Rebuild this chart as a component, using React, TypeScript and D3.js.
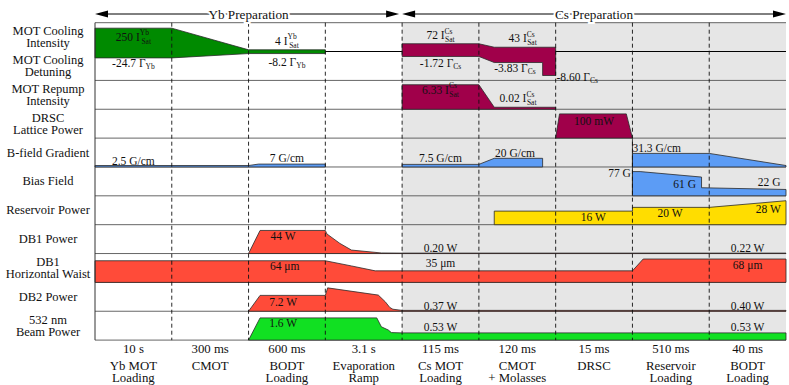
import React from 'react';
import * as d3 from 'd3';

const W = 789, H = 385;

// sequence steps (one column each)
const durations = ['10 s', '300 ms', '600 ms', '3.1 s', '115 ms', '120 ms', '15 ms', '510 ms', '40 ms'];
const phases = [['Yb MOT', 'Loading'], ['CMOT'], ['BODT', 'Loading'], ['Evaporation', 'Ramp'], ['Cs MOT', 'Loading'], ['CMOT', '+ Molasses'], ['DRSC'], ['Reservoir', 'Loading'], ['BODT', 'Loading']];

// channel names, one per row
const rowNames = [
  ['MOT Cooling', 'Intensity'],
  ['MOT Cooling', 'Detuning'],
  ['MOT Repump', 'Intensity'],
  ['DRSC', 'Lattice Power'],
  ['B-field Gradient'],
  ['Bias Field'],
  ['Reservoir Power'],
  ['DB1 Power'],
  ['DB1', 'Horizontal Waist'],
  ['DB2 Power'],
  ['532 nm', 'Beam Power'],
];

// waveforms: [time (steps), level (fraction of row height above baseline)]
const coolingYb = [[0, 0.81], [1, 0.81], [2, 0.06], [3, 0.06], [3, -0.07], [2, -0.07], [1, -0.22], [0, -0.22]];
const coolingCs = [[4, 0.27], [5, 0.27], [5.2, 0.15], [6, 0.15], [6, -0.83], [5.83, -0.83], [5.83, -0.38], [5.2, -0.38], [5, -0.17], [4, -0.17]];
const repumpCs = [[4, 0], [4, 0.85], [5, 0.85], [5.2, 0.07], [6, 0.07], [6, 0]];
const drscPower = [[6, 0], [6.05, 0.84], [6.92, 0.84], [7, 0]];
const gradYb = [[0, 0], [0, 0.05], [2, 0.05], [2.13, 0.1], [3, 0.1], [3, 0]];
const gradCs = [[4, 0], [4, 0.09], [5, 0.09], [5.2, 0.3], [5.83, 0.3], [5.83, 0]];
const gradRes = [[7, 0], [7, 0.47], [8, 0.47], [9, 0.05], [9, 0]];
const biasField = [[7, 0], [7, 0.84], [7.1, 0.84], [7.9, 0.65], [7.9, 0.28], [9, 0.22], [9, 0]];
const reservoir = [[5.2, 0], [5.2, 0.47], [7, 0.47], [7, 0.6], [8, 0.6], [9, 0.83], [9, 0]];
const db1Power = [[2, 0], [2.15, 0.8], [3, 0.8], [3.02, 0.68], [3.19, 0.35], [3.34, 0.12], [3.73, 0.02], [4, 0.015], [9, 0.015], [9, 0]];
const db1Waist = [[0, 0], [0, 0.75], [3, 0.75], [3.34, 0.57], [3.65, 0.4], [7, 0.4], [7.14, 0.81], [9, 0.81], [9, 0]];
const db2Power = [[2, 0], [2.15, 0.55], [3, 0.55], [3.03, 0.81], [3.69, 0.56], [3.78, 0.33], [3.84, 0.13], [3.88, 0.07], [4, 0.03], [9, 0.03], [9, 0]];
const greenPower = [[2, 0], [2.15, 0.77], [3.67, 0.77], [3.73, 0.46], [3.82, 0.35], [3.86, 0.26], [4, 0.25], [9, 0.25], [9, 0]];

// trace table: points, baseline row boundary, colour
const traces = [
  { pts: coolingYb, base: 1, fill: '#008a00' },
  { pts: coolingCs, base: 1, fill: '#a0004a' },
  { pts: repumpCs, base: 3, fill: '#a0004a' },
  { pts: drscPower, base: 4, fill: '#a0004a' },
  { pts: gradYb, base: 5, fill: '#5c9cf5' },
  { pts: gradCs, base: 5, fill: '#5c9cf5' },
  { pts: gradRes, base: 5, fill: '#5c9cf5' },
  { pts: biasField, base: 6, fill: '#5c9cf5' },
  { pts: reservoir, base: 7, fill: '#ffdd00' },
  { pts: db1Power, base: 8, fill: '#ff4b39' },
  { pts: db1Waist, base: 9, fill: '#ff4b39' },
  { pts: db2Power, base: 10, fill: '#ff4b39' },
  { pts: greenPower, base: 11, fill: '#11e022' },
];

// value annotations: text, time, row position
const notes = [
  { txt: '250 I', sup: 'Yb', sub: 'Sat', t: 0.5, r: 0.49 },
  { txt: '-24.7 Γ', sub: 'Yb', t: 0.5, r: 1.41 },
  { txt: '4 I', sup: 'Yb', sub: 'Sat', t: 2.5, r: 0.63 },
  { txt: '-8.2 Γ', sub: 'Yb', t: 2.5, r: 1.35 },
  { txt: '72 I', sup: 'Cs', sub: 'Sat', t: 4.5, r: 0.43 },
  { txt: '43 I', sup: 'Cs', sub: 'Sat', t: 5.57, r: 0.54 },
  { txt: '-1.72 Γ', sub: 'Cs', t: 4.5, r: 1.39 },
  { txt: '-3.83 Γ', sub: 'Cs', t: 5.47, r: 1.58 },
  { txt: '-8.60 Γ', sub: 'Cs', t: 6.01, r: 1.87, anchor: 'start' },
  { txt: '6.33 I', sup: 'Cs', sub: 'Sat', t: 4.5, r: 2.33 },
  { txt: '0.02 I', sup: 'Cs', sub: 'Sat', t: 5.51, r: 2.62 },
  { txt: '100 mW', t: 6.5, r: 3.4 },
  { txt: '2.5 G/cm', t: 0.5, r: 4.78 },
  { txt: '7 G/cm', t: 2.5, r: 4.7 },
  { txt: '7.5 G/cm', t: 4.5, r: 4.7 },
  { txt: '20 G/cm', t: 5.47, r: 4.51 },
  { txt: '31.3 G/cm', t: 7.0, r: 4.35, anchor: 'start' },
  { txt: '77 G', t: 6.98, r: 5.22, anchor: 'end' },
  { txt: '61 G', t: 7.68, r: 5.59 },
  { txt: '22 G', t: 8.78, r: 5.51 },
  { txt: '16 W', t: 6.49, r: 6.74 },
  { txt: '20 W', t: 7.49, r: 6.61 },
  { txt: '28 W', t: 8.77, r: 6.46 },
  { txt: '44 W', t: 2.45, r: 7.39 },
  { txt: '0.20 W', t: 4.5, r: 7.8 },
  { txt: '0.22 W', t: 8.5, r: 7.8 },
  { txt: '64 μm', t: 2.47, r: 8.43 },
  { txt: '35 μm', t: 4.5, r: 8.34 },
  { txt: '68 μm', t: 8.5, r: 8.4 },
  { txt: '7.2 W', t: 2.45, r: 9.67 },
  { txt: '0.37 W', t: 4.5, r: 9.81 },
  { txt: '0.40 W', t: 8.5, r: 9.81 },
  { txt: '1.6 W', t: 2.45, r: 10.42 },
  { txt: '0.53 W', t: 4.5, r: 10.56 },
  { txt: '0.53 W', t: 8.5, r: 10.56 },
];

const FONT = 'Liberation Serif';

export default function App() {
  const x = d3.scaleLinear().domain([0, 9]).range([95, 786]);
  const y = d3.scaleLinear().domain([0, 11]).range([22.7, 340.1]);
  const rowH = y(1) - y(0);

  const shape = (pts: number[][], base: number) =>
    d3.line<number[]>().x(d => x(d[0])).y(d => y(base) - d[1] * rowH)(pts) + 'Z';

  const arrow = (x0: number, x1: number, yy: number) => {
    const L = 13, h = 3.6;
    return `M${x0},${yy}L${x0 + L},${yy - h}L${x0 + L},${yy + h}Z M${x1},${yy}L${x1 - L},${yy - h}L${x1 - L},${yy + h}Z`;
  };

  const topY = 14;
  const txt = { fontFamily: FONT, fill: '#111' };

  return (
    <svg width={W} height={H} style={{ position: 'absolute', left: 0, top: 0, background: '#fff' }}>
      {/* Cs shading */}
      <rect x={x(4)} y={y(0)} width={x(9) - x(4)} height={y(11) - y(0)} fill="#e6e6e6" />

      {/* row separators */}
      {d3.range(12).map(i => (
        <line key={i} x1={x(0)} x2={x(9)} y1={y(i)} y2={y(i)}
          stroke={i === 1 ? '#000' : '#555'} strokeWidth={i === 1 ? 1.1 : 0.9} />
      ))}

      {/* waveforms */}
      {traces.map((tr, i) => (
        <path key={i} d={shape(tr.pts, tr.base)} fill={tr.fill} stroke="#2a2a2a" strokeWidth={0.8} strokeLinejoin="round" />
      ))}
      <line x1={x(7)} x2={x(7)} y1={y(4) + 1} y2={y(6)} stroke="#2a2a2a" strokeWidth={0.9} />

      {/* step boundaries */}
      {d3.range(1, 9).map(i => (
        <line key={i} x1={x(i)} x2={x(i)} y1={y(0)} y2={y(11)} stroke="#111" strokeWidth={0.9} strokeDasharray="4,3" />
      ))}
      <line x1={x(0)} x2={x(0)} y1={y(0)} y2={y(11)} stroke="#333" strokeWidth={1} />

      {/* preparation arrows */}
      <line x1={x(0) + 5} x2={x(4) - 8} y1={topY} y2={topY} stroke="#000" strokeWidth={1} />
      <path d={arrow(x(0), x(4) - 3, topY)} fill="#000" />
      <line x1={x(4) + 5} x2={x(9) - 5} y1={topY} y2={topY} stroke="#000" strokeWidth={1} />
      <path d={arrow(x(4), x(9), topY)} fill="#000" />
      {[['Yb Preparation', (x(0) + x(4)) / 2], ['Cs Preparation', (x(4) + x(9)) / 2]].map(([s, cx]) => (
        <text key={s as string} x={cx as number} y={topY} textAnchor="middle" dominantBaseline="central" fontSize={13.2}
          stroke="#fff" strokeWidth={4} paintOrder="stroke" style={txt}>{s}</text>
      ))}

      {/* row names */}
      {rowNames.map((lines, i) => {
        const cy = (y(i) + y(i + 1)) / 2;
        return lines.map((l, j) => (
          <text key={i + '-' + j} x={48} y={cy + (j - (lines.length - 1) / 2) * 11.8}
            textAnchor="middle" dominantBaseline="central" fontSize={12.5} style={txt}>{l}</text>
        ));
      })}

      {/* value annotations */}
      {notes.map((n, i) => {
        const supW = n.sup ? n.sup.length * 0.5 * 7.5 : 0;
        return (
          <text key={i} x={x(n.t)} y={y(n.r)} textAnchor={n.anchor || 'middle'} dominantBaseline="central" fontSize={11.5} style={txt}>
            {n.txt}
            {n.sup && <tspan dy={-4.5} fontSize={7.5}>{n.sup}</tspan>}
            {n.sub && <tspan dx={n.sup ? -supW : 0} dy={n.sup ? 8.5 : 3} fontSize={7.5}>{n.sub}</tspan>}
          </text>
        );
      })}

      {/* step durations and names */}
      {durations.map((d, i) => (
        <g key={i}>
          <text x={x(i + 0.5)} y={349} textAnchor="middle" dominantBaseline="central" fontSize={12.8} style={txt}>{d}</text>
          {phases[i].map((p, j) => (
            <text key={j} x={x(i + 0.5)} y={365.7 + j * 12} textAnchor="middle" dominantBaseline="central" fontSize={12.8} style={txt}>{p}</text>
          ))}
        </g>
      ))}
    </svg>
  );
}
